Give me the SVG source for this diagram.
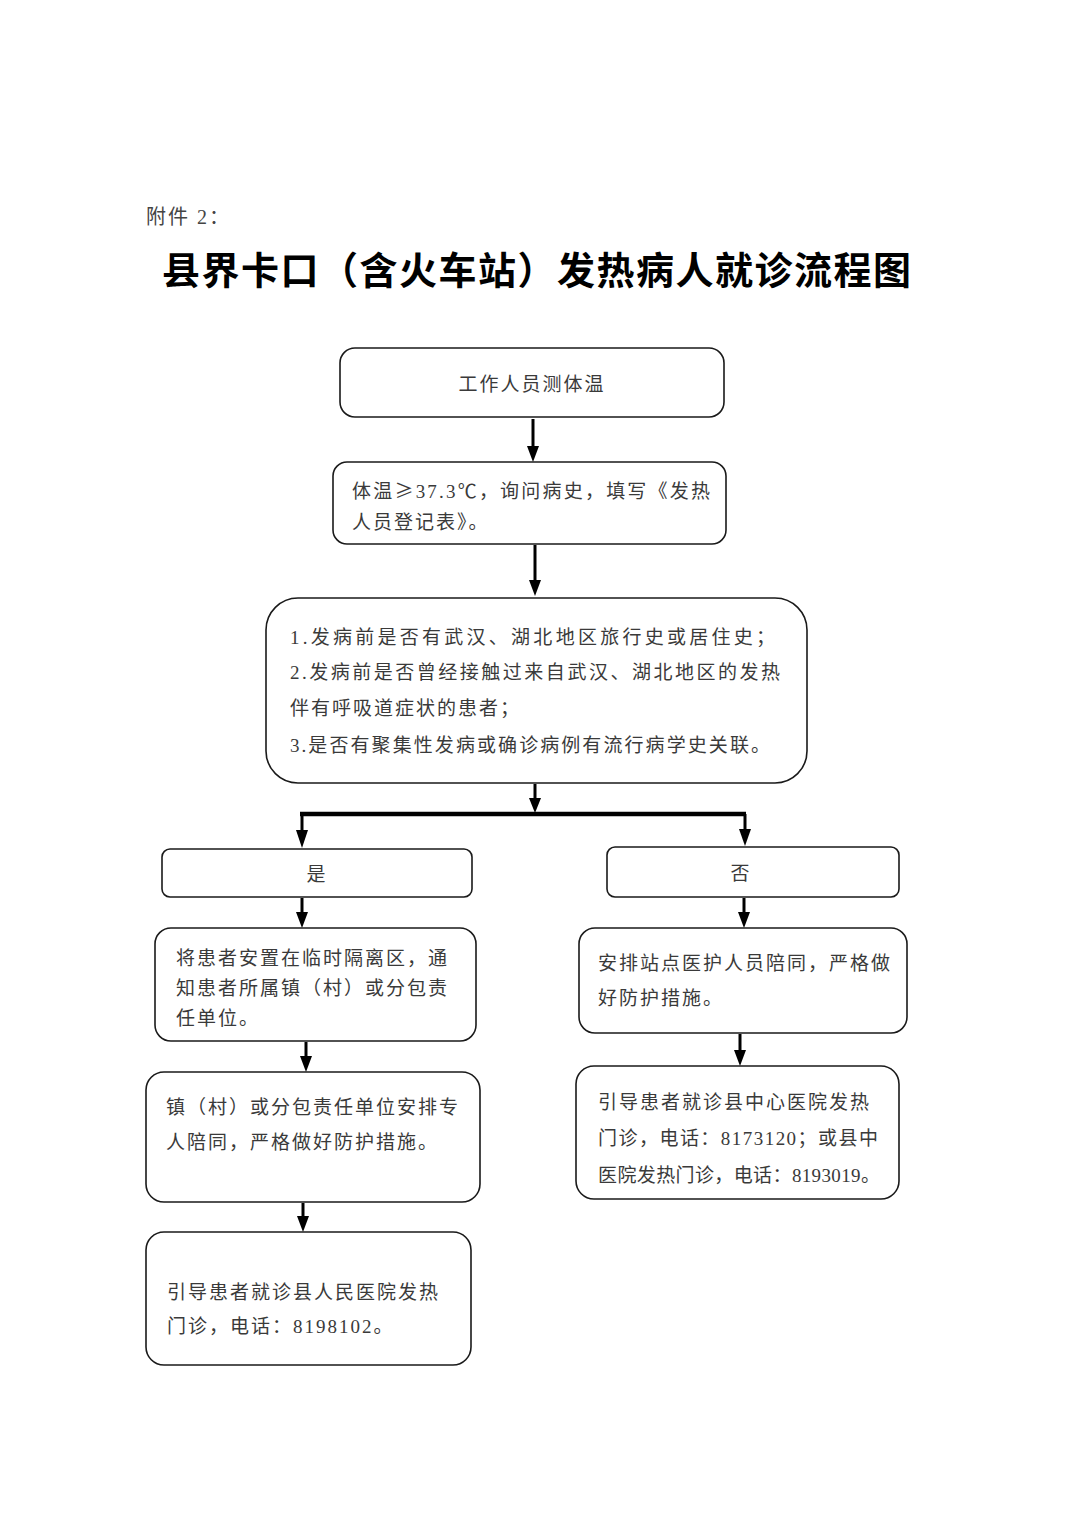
<svg xmlns="http://www.w3.org/2000/svg" width="1080" height="1528" viewBox="0 0 1080 1528">
<style>
.box{fill:#fff;stroke:#1a1a1a;stroke-width:1.6}
.t{font-family:"Liberation Serif","Noto Sans CJK SC",serif;font-size:19px;fill:#3a3a3a;letter-spacing:2px}
.f{letter-spacing:0}
.cjk{font-family:"Noto Sans CJK SC",sans-serif}
.c{stroke:#000;stroke-width:3;fill:none}
.hdr{font-family:"Liberation Serif","Noto Sans CJK SC",serif;font-size:20px;fill:#444;letter-spacing:2px}
.title{font-family:"Noto Sans CJK SC",sans-serif;font-size:38px;font-weight:bold;fill:#000;letter-spacing:1.5px}
</style>
<rect width="1080" height="1528" fill="#fff"/>
<text class="hdr" x="146" y="224">附件 2：</text>
<text class="title" x="162" y="284">县界卡口（含火车站）发热病人就诊流程图</text>

<g id="connectors">
<path class="c" d="M533,419 V448"/><path d="M527,446 L539,446 L533,462 Z"/>
<path class="c" d="M535,545 V582"/><path d="M529,580 L541,580 L535,596 Z"/>
<path class="c" d="M535,784 V800"/><path d="M529,798 L541,798 L535,813 Z"/>
<path d="M300,814 H746" stroke="#000" stroke-width="4.5" fill="none"/>
<path class="c" d="M302,814 V832"/><path d="M296,830 L308,830 L302,848 Z"/>
<path class="c" d="M745,814 V830"/><path d="M739,829 L751,829 L745,846 Z"/>
<path class="c" d="M302,898 V914"/><path d="M296,912 L308,912 L302,928 Z"/>
<path class="c" d="M744,898 V914"/><path d="M738,912 L750,912 L744,928 Z"/>
<path class="c" d="M306,1042 V1058"/><path d="M300,1056 L312,1056 L306,1072 Z"/>
<path class="c" d="M740,1034 V1052"/><path d="M734,1050 L746,1050 L740,1066 Z"/>
<path class="c" d="M303,1203 V1218"/><path d="M297,1216 L309,1216 L303,1232 Z"/>
</g>

<g id="n1">
<rect class="box" x="340" y="348" width="384" height="69" rx="15"/>
<text class="t" x="532" y="391" text-anchor="middle">工作人员测体温</text>
</g>
<g id="n2">
<rect class="box" x="333" y="462" width="393" height="82" rx="14"/>
<text class="t f" x="352" y="498" textLength="358" lengthAdjust="spacing">体温<tspan class="cjk">≥</tspan>37.3℃，询问病史，填写《发热</text>
<text class="t" x="352" y="529">人员登记表》。</text>
</g>
<g id="n3">
<rect class="box" x="266" y="598" width="541" height="185" rx="32"/>
<text class="t f" x="290" y="644" textLength="485" lengthAdjust="spacing">1.发病前是否有武汉、湖北地区旅行史或居住史；</text>
<text class="t f" x="290" y="679" textLength="490" lengthAdjust="spacing">2.发病前是否曾经接触过来自武汉、湖北地区的发热</text>
<text class="t" x="290" y="715">伴有呼吸道症状的患者；</text>
<text class="t f" x="290" y="752" textLength="480" lengthAdjust="spacing">3.是否有聚集性发病或确诊病例有流行病学史关联。</text>
</g>
<g id="n_yes">
<rect class="box" x="162" y="849" width="310" height="48" rx="8"/>
<text class="t" x="317" y="881" text-anchor="middle">是</text>
</g>
<g id="n_no">
<rect class="box" x="607" y="847" width="292" height="50" rx="8"/>
<text class="t" x="741" y="880" text-anchor="middle">否</text>
</g>
<g id="n_l1">
<rect class="box" x="155" y="928" width="321" height="113" rx="16"/>
<text class="t" x="176" y="965">将患者安置在临时隔离区，通</text>
<text class="t" x="176" y="995">知患者所属镇（村）或分包责</text>
<text class="t" x="176" y="1025">任单位。</text>
</g>
<g id="n_r1">
<rect class="box" x="579" y="928" width="328" height="105" rx="16"/>
<text class="t" x="598" y="970">安排站点医护人员陪同，严格做</text>
<text class="t" x="598" y="1005">好防护措施。</text>
</g>
<g id="n_l2">
<rect class="box" x="146" y="1072" width="334" height="130" rx="18"/>
<text class="t" x="166" y="1114">镇（村）或分包责任单位安排专</text>
<text class="t" x="166" y="1149">人陪同，严格做好防护措施。</text>
</g>
<g id="n_r2">
<rect class="box" x="576" y="1066" width="323" height="133" rx="18"/>
<text class="t" x="598" y="1109">引导患者就诊县中心医院发热</text>
<text class="t f" x="598" y="1145" textLength="280" lengthAdjust="spacing">门诊，电话：8173120；或县中</text>
<text class="t f" x="598" y="1182" textLength="282" lengthAdjust="spacing">医院发热门诊，电话：8193019。</text>
</g>
<g id="n_l3">
<rect class="box" x="146" y="1232" width="325" height="133" rx="18"/>
<text class="t" x="167" y="1299">引导患者就诊县人民医院发热</text>
<text class="t" x="167" y="1333">门诊，电话：8198102。</text>
</g>
</svg>
